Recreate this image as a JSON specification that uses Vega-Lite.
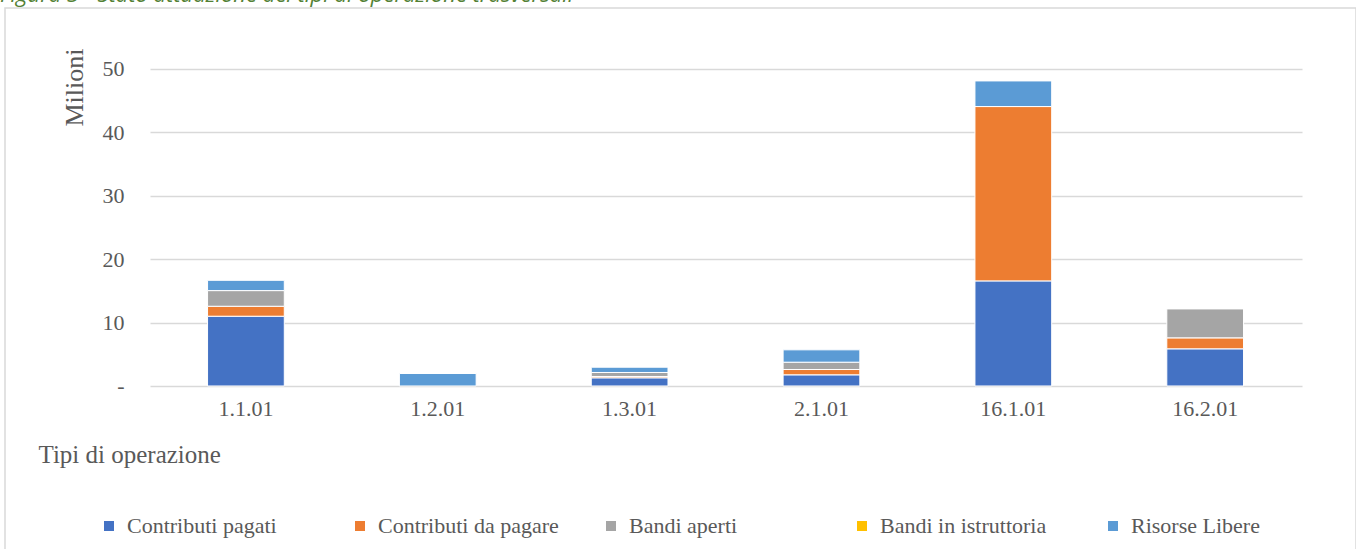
{
  "$schema": "https://vega.github.io/schema/vega-lite/v6.json",
  "width": 1351,
  "height": 560,
  "autosize": {"type": "none"},
  "padding": {"left": 5, "top": 8, "right": 0, "bottom": 0},
  "background": "white",
  "title": {
    "text": "Figura 3 - Stato attuazione dei tipi di operazione trasversali",
    "anchor": "start",
    "frame": "group",
    "orient": "top",
    "offset": 3,
    "dx": -5,
    "dy": 19,
    "baseline": "alphabetic",
    "font": "Open Sans",
    "fontStyle": "italic",
    "fontWeight": "normal",
    "fontSize": 22,
    "color": "#538135"
  },
  "data": {
    "values": [
      {"tipo": "1.1.01", "voce": "Contributi pagati", "milioni": 11.0},
      {"tipo": "1.1.01", "voce": "Contributi  da pagare", "milioni": 1.57},
      {"tipo": "1.1.01", "voce": "Bandi aperti", "milioni": 2.47},
      {"tipo": "1.1.01", "voce": "Risorse Libere", "milioni": 1.62},
      {"tipo": "1.2.01", "voce": "Risorse Libere", "milioni": 1.97},
      {"tipo": "1.3.01", "voce": "Contributi pagati", "milioni": 1.29},
      {"tipo": "1.3.01", "voce": "Contributi  da pagare", "milioni": 0.21},
      {"tipo": "1.3.01", "voce": "Bandi aperti", "milioni": 0.63},
      {"tipo": "1.3.01", "voce": "Risorse Libere", "milioni": 0.83},
      {"tipo": "2.1.01", "voce": "Contributi pagati", "milioni": 1.76},
      {"tipo": "2.1.01", "voce": "Contributi  da pagare", "milioni": 0.84},
      {"tipo": "2.1.01", "voce": "Bandi aperti", "milioni": 1.15},
      {"tipo": "2.1.01", "voce": "Risorse Libere", "milioni": 1.95},
      {"tipo": "16.1.01", "voce": "Contributi pagati", "milioni": 16.57},
      {"tipo": "16.1.01", "voce": "Contributi  da pagare", "milioni": 27.49},
      {"tipo": "16.1.01", "voce": "Risorse Libere", "milioni": 4.04},
      {"tipo": "16.2.01", "voce": "Contributi pagati", "milioni": 5.86},
      {"tipo": "16.2.01", "voce": "Contributi  da pagare", "milioni": 1.73},
      {"tipo": "16.2.01", "voce": "Bandi aperti", "milioni": 4.56}
    ]
  },
  "transform": [
    {"calculate": "indexof(['Contributi pagati', 'Contributi  da pagare', 'Bandi aperti', 'Bandi in istruttoria', 'Risorse Libere'], datum.voce)", "as": "livello"}
  ],
  "mark": {"type": "bar", "stroke": "white", "strokeWidth": 1},
  "encoding": {
    "x": {
      "field": "tipo",
      "type": "nominal",
      "sort": ["1.1.01", "1.2.01", "1.3.01", "2.1.01", "16.1.01", "16.2.01"],
      "scale": {"paddingInner": 0.6, "paddingOuter": 0.821, "align": 0.643},
      "axis": {
        "orient": "bottom",
        "offset": -182,
        "domain": false,
        "ticks": false,
        "grid": false,
        "labelAngle": 0,
        "labelPadding": 12,
        "labelFont": "Liberation Serif",
        "labelFontSize": 22,
        "labelColor": "#595959",
        "title": "Tipi di operazione",
        "titleFont": "Liberation Serif",
        "titleFontSize": 25,
        "titleFontWeight": "normal",
        "titleColor": "#595959",
        "titleX": 33,
        "titleY": 68,
        "titleAlign": "left",
        "titleBaseline": "middle"
      }
    },
    "y": {
      "field": "milioni",
      "type": "quantitative",
      "stack": "zero",
      "scale": {"domain": [-28.7, 59.6], "nice": false, "zero": false},
      "axis": {
        "orient": "left",
        "offset": -145,
        "values": [0, 10, 20, 30, 40, 50],
        "grid": false,
        "domain": false,
        "ticks": true,
        "tickSize": -1152,
        "tickColor": "#d9d9d9",
        "tickWidth": 1.5,
        "labelPadding": 1178,
        "labelExpr": "datum.value == 0 ? '-' : datum.label",
        "labelFont": "Liberation Serif",
        "labelFontSize": 22,
        "labelColor": "#595959",
        "title": "Milioni",
        "titleFont": "Liberation Serif",
        "titleFontSize": 26,
        "titleFontWeight": "normal",
        "titleColor": "#595959",
        "titleAngle": -90,
        "titleX": -76,
        "titleY": 79,
        "titleAlign": "center",
        "titleBaseline": "middle"
      }
    },
    "color": {
      "field": "voce",
      "type": "nominal",
      "sort": ["Contributi pagati", "Contributi  da pagare", "Bandi aperti", "Bandi in istruttoria", "Risorse Libere"],
      "scale": {
        "domain": ["Contributi pagati", "Contributi  da pagare", "Bandi aperti", "Bandi in istruttoria", "Risorse Libere"],
        "range": ["#4472C4", "#ED7D31", "#A5A5A5", "#FFC000", "#5B9BD5"]
      },
      "legend": {
        "orient": "none",
        "legendX": 93,
        "legendY": 507,
        "direction": "horizontal",
        "columns": 5,
        "gridAlign": "all",
        "columnPadding": 35,
        "padding": 0,
        "title": null,
        "symbolType": "square",
        "symbolSize": 100,
        "symbolStrokeWidth": 0,
        "labelOffset": 7,
        "labelFont": "Liberation Serif",
        "labelFontSize": 22,
        "labelColor": "#595959",
        "labelLimit": 400
      }
    },
    "order": {"field": "livello", "type": "quantitative", "sort": "ascending"}
  },
  "config": {
    "view": {"stroke": "#d9d9d9", "strokeWidth": 1.5}
  }
}
